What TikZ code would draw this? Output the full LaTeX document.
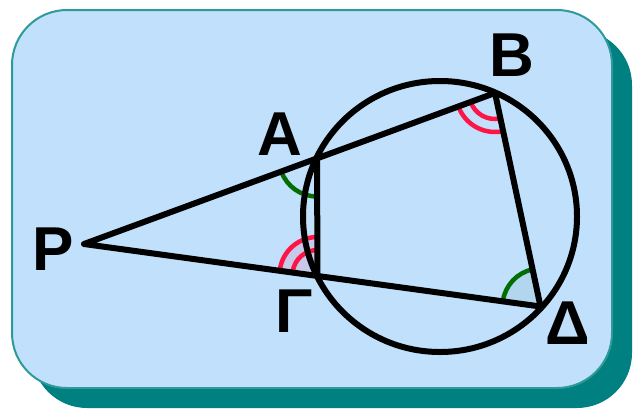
\documentclass[tikz,border=0pt]{standalone}
\usepackage{fontspec}
\setmainfont{Liberation Sans}
\usepackage{xcolor}
\usepackage{tikz}
\usetikzlibrary{angles, positioning, calc}
\definecolor{boxblue}{RGB}{192, 224, 252}
\definecolor{boxteal}{RGB}{0, 128, 128}
\definecolor{rimteal}{RGB}{46, 154, 154}
\definecolor{markred}{RGB}{255, 20, 70}
\definecolor{markgreen}{RGB}{0, 110, 0}
\definecolor{gamfill}{RGB}{200, 200, 232}
\definecolor{delfill}{RGB}{178, 214, 238}

\tikzset{
    ptlabel/.style={font=\bfseries\fontsize{62}{62}\selectfont, inner sep=0pt},
    chord/.style={line width=6pt, line join=round, line cap=round},
    redmark/.style={draw=markred, line width=4.5pt},
    greenmark/.style={draw=markgreen, line width=4.5pt}
}

\begin{document}
\begin{tikzpicture}[x=1pt, y=-1pt]
    \useasboundingbox (0,0) rectangle (636,410);

    % Points of the figure (picture measured in pixels, y downwards)
    \coordinate (O) at (440,216.5);
    \coordinate (P) at (84,244);
    \coordinate (A) at (317,158.5);
    \coordinate (B) at (495,93);
    \coordinate (Gam) at (317.5,275);
    \coordinate (Del) at (540.5,306.5);

    % Card with its shadow
    \fill[boxteal, rounded corners=55pt] (32,30) rectangle (632,408);
    \filldraw[fill=boxblue, draw=rimteal, line width=2pt, rounded corners=55pt] (12,10) rectangle (612,388);

    % Shaded angle sectors
    \pic[fill=gamfill, angle radius=38pt] {angle=A--Gam--P};
    \pic[fill=delfill, angle radius=38pt] {angle=B--Del--Gam};

    % Equal angles: green at A and Delta, double red at B and Gamma
    \pic[greenmark, angle radius=38pt] {angle=P--A--Gam};
    \pic[greenmark, angle radius=38pt] {angle=B--Del--Gam};
    \pic[redmark, angle radius=38pt] {angle=A--Gam--P};
    \pic[redmark, angle radius=25pt] {angle=A--Gam--P};
    \pic[redmark, angle radius=39pt] {angle=A--B--Del};
    \pic[redmark, angle radius=26pt] {angle=A--B--Del};

    % Circle, secants and chords
    \draw[chord] (O) ellipse [x radius=137, y radius=135.5];
    \draw[chord] (B) -- (P) -- (Del);
    \draw[chord] (A) -- (Gam);
    \draw[chord] (B) -- (Del);

    % Labels
    \node[ptlabel] (labP) at (53,249) {P};
    \node[ptlabel] (labA) at (280,134) {A};
    \node[ptlabel] (labB) at (512,55) {B};
    \node[ptlabel] (labGam) at (294,311) {Γ};
    \node[ptlabel] (labDel) at (568,323) {Δ};
\end{tikzpicture}
\end{document}
